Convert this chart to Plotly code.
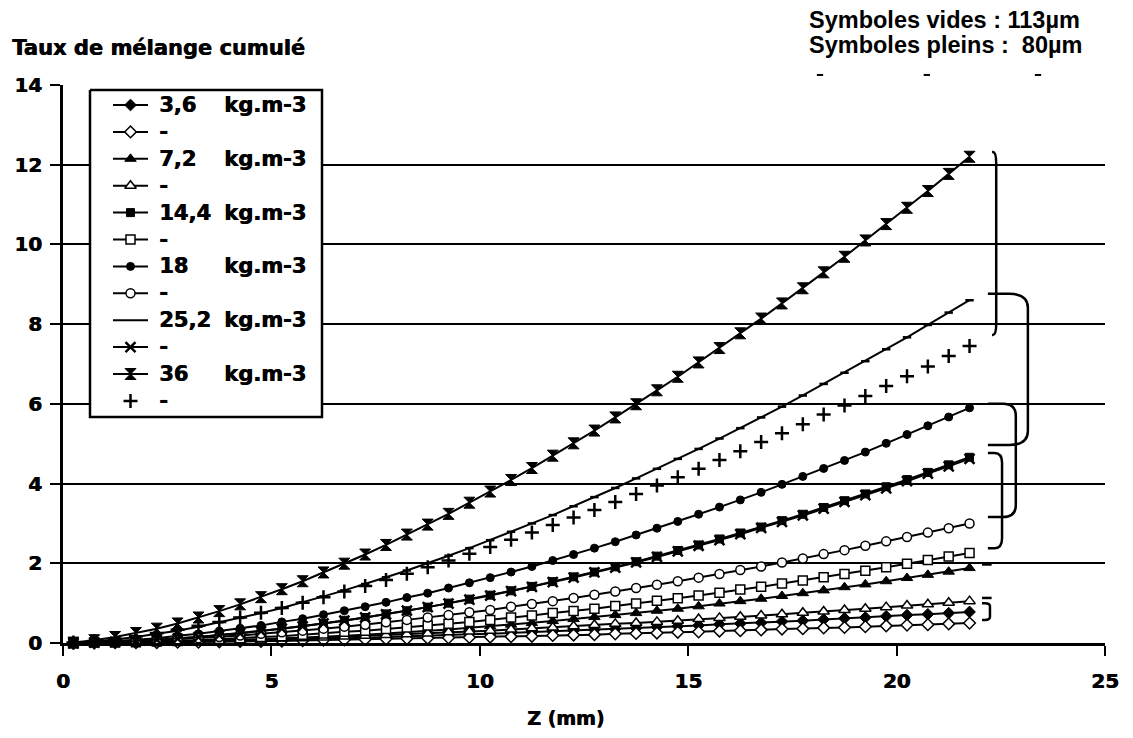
import plotly.graph_objects as go

# Axial position (mm)
z_mm = [0.25, 0.75, 1.25, 1.75, 2.25, 2.75, 3.25, 3.75, 4.25, 4.75, 5.25,
        5.75, 6.25, 6.75, 7.25, 7.75, 8.25, 8.75, 9.25, 9.75, 10.25, 10.75,
        11.25, 11.75, 12.25, 12.75, 13.25, 13.75, 14.25, 14.75, 15.25, 15.75,
        16.25, 16.75, 17.25, 17.75, 18.25, 18.75, 19.25, 19.75, 20.25, 20.75,
        21.25, 21.75]

# Cumulated mixing rate, 80 µm particles (filled symbols)
c36_80 = [0.01, 0.07, 0.15, 0.25, 0.36, 0.49, 0.64, 0.80, 0.97, 1.15, 1.35,
          1.55, 1.77, 1.99, 2.22, 2.46, 2.72, 2.97, 3.24, 3.52, 3.80, 4.09,
          4.39, 4.70, 5.01, 5.33, 5.66, 5.99, 6.34, 6.68, 7.04, 7.40, 7.77,
          8.14, 8.52, 8.90, 9.30, 9.69, 10.10, 10.51, 10.92, 11.34, 11.77, 12.20]
c252_80 = [0.01, 0.04, 0.09, 0.15, 0.23, 0.31, 0.41, 0.52, 0.63, 0.75, 0.88,
           1.02, 1.17, 1.32, 1.48, 1.65, 1.82, 2.00, 2.19, 2.38, 2.58, 2.79,
           3.00, 3.21, 3.43, 3.66, 3.89, 4.13, 4.37, 4.62, 4.87, 5.13, 5.39,
           5.66, 5.93, 6.21, 6.50, 6.78, 7.07, 7.37, 7.67, 7.98, 8.29, 8.60]
c18_80 = [0.00, 0.02, 0.05, 0.08, 0.12, 0.18, 0.23, 0.30, 0.37, 0.44, 0.53,
          0.61, 0.71, 0.81, 0.91, 1.02, 1.14, 1.25, 1.38, 1.51, 1.64, 1.78,
          1.92, 2.07, 2.22, 2.38, 2.54, 2.71, 2.88, 3.05, 3.23, 3.41, 3.59,
          3.78, 3.98, 4.18, 4.38, 4.58, 4.79, 5.01, 5.23, 5.45, 5.67, 5.90]
c144_80 = [0.00, 0.01, 0.03, 0.05, 0.08, 0.11, 0.15, 0.20, 0.25, 0.30, 0.36,
           0.42, 0.49, 0.57, 0.64, 0.73, 0.81, 0.90, 1.00, 1.10, 1.20, 1.31,
           1.42, 1.54, 1.66, 1.78, 1.91, 2.04, 2.18, 2.32, 2.46, 2.61, 2.76,
           2.91, 3.07, 3.23, 3.40, 3.57, 3.74, 3.92, 4.10, 4.28, 4.47, 4.66]
c72_80 = [0.00, 0.00, 0.01, 0.01, 0.02, 0.03, 0.04, 0.06, 0.07, 0.09, 0.11,
          0.13, 0.16, 0.18, 0.21, 0.24, 0.27, 0.30, 0.34, 0.38, 0.42, 0.46,
          0.50, 0.55, 0.60, 0.65, 0.70, 0.75, 0.81, 0.86, 0.92, 0.99, 1.05,
          1.11, 1.18, 1.25, 1.32, 1.40, 1.47, 1.55, 1.63, 1.71, 1.79, 1.88]
c36k_80 = [0.00, 0.00, 0.01, 0.01, 0.02, 0.03, 0.04, 0.05, 0.06, 0.07, 0.08,
           0.09, 0.11, 0.12, 0.13, 0.15, 0.17, 0.18, 0.20, 0.22, 0.23, 0.25,
           0.27, 0.29, 0.31, 0.33, 0.35, 0.37, 0.40, 0.42, 0.44, 0.47, 0.49,
           0.51, 0.54, 0.56, 0.59, 0.62, 0.64, 0.67, 0.70, 0.72, 0.75, 0.78]

# Cumulated mixing rate, 113 µm particles (open symbols)
c36_113 = [0.01, 0.05, 0.10, 0.17, 0.25, 0.33, 0.43, 0.53, 0.64, 0.76, 0.88,
           1.01, 1.15, 1.29, 1.43, 1.58, 1.74, 1.90, 2.07, 2.24, 2.41, 2.59,
           2.77, 2.96, 3.15, 3.34, 3.54, 3.74, 3.95, 4.16, 4.37, 4.59, 4.81,
           5.04, 5.26, 5.49, 5.73, 5.96, 6.20, 6.45, 6.69, 6.94, 7.20, 7.45]
c252_113 = [0.00, 0.01, 0.03, 0.05, 0.08, 0.11, 0.15, 0.20, 0.24, 0.30, 0.36,
            0.42, 0.49, 0.56, 0.64, 0.72, 0.81, 0.90, 0.99, 1.09, 1.19, 1.30,
            1.41, 1.53, 1.64, 1.77, 1.89, 2.02, 2.16, 2.30, 2.44, 2.58, 2.73,
            2.89, 3.04, 3.20, 3.37, 3.54, 3.71, 3.88, 4.06, 4.25, 4.43, 4.62]
c18_113 = [0.00, 0.01, 0.02, 0.04, 0.06, 0.09, 0.12, 0.15, 0.19, 0.23, 0.27,
           0.31, 0.36, 0.41, 0.46, 0.52, 0.58, 0.64, 0.70, 0.77, 0.83, 0.91,
           0.98, 1.05, 1.13, 1.21, 1.29, 1.38, 1.46, 1.55, 1.64, 1.73, 1.83,
           1.92, 2.02, 2.12, 2.23, 2.33, 2.44, 2.55, 2.66, 2.77, 2.88, 3.00]
c144_113 = [0.00, 0.01, 0.01, 0.02, 0.04, 0.05, 0.07, 0.10, 0.12, 0.15, 0.17,
            0.21, 0.24, 0.28, 0.31, 0.35, 0.39, 0.44, 0.48, 0.53, 0.58, 0.64,
            0.69, 0.75, 0.80, 0.86, 0.93, 0.99, 1.06, 1.12, 1.19, 1.26, 1.34,
            1.41, 1.49, 1.57, 1.65, 1.73, 1.81, 1.90, 1.99, 2.08, 2.17, 2.26]
c72_113 = [0.00, 0.00, 0.01, 0.02, 0.03, 0.04, 0.05, 0.06, 0.08, 0.09, 0.11,
           0.12, 0.14, 0.16, 0.18, 0.20, 0.22, 0.24, 0.27, 0.29, 0.31, 0.34,
           0.37, 0.39, 0.42, 0.45, 0.48, 0.50, 0.53, 0.56, 0.60, 0.63, 0.66,
           0.69, 0.72, 0.76, 0.79, 0.83, 0.86, 0.90, 0.94, 0.97, 1.01, 1.05]
c36k_113 = [0.00, 0.00, 0.01, 0.01, 0.01, 0.02, 0.02, 0.03, 0.04, 0.04, 0.05,
            0.06, 0.07, 0.08, 0.09, 0.10, 0.11, 0.12, 0.13, 0.14, 0.15, 0.16,
            0.17, 0.19, 0.20, 0.21, 0.23, 0.24, 0.25, 0.27, 0.28, 0.30, 0.31,
            0.33, 0.35, 0.36, 0.38, 0.39, 0.41, 0.43, 0.45, 0.46, 0.48, 0.50]

# Legend entries: concentration label ("-" for the 113 µm twin)
conc_labels = ["3,6", "-", "7,2", "-", "14,4", "-", "18", "-", "25,2", "-", "36", "-"]
unit_label = "kg.m-3"

HEAVY = "DejaVu Sans"
BLACK = "#000000"
SHADOW = "0.7px 0px 0px #000"

# (values, symbol, filled, marker size, mode)
styles = [
    (c36k_80, "diamond", True, 9, "lines+markers"),
    (c36k_113, "diamond", False, 9, "lines+markers"),
    (c72_80, "triangle-up", True, 10, "lines+markers"),
    (c72_113, "triangle-up", False, 10, "lines+markers"),
    (c144_80, "square", True, 8, "lines+markers"),
    (c144_113, "square", False, 9, "lines+markers"),
    (c18_80, "circle", True, 8, "lines+markers"),
    (c18_113, "circle", False, 9, "lines+markers"),
    (c252_80, "line-ew", True, 6, "lines+markers"),
    (c252_113, "x-thin", True, 10, "lines+markers"),
    (c36_80, "hourglass", True, 11, "lines+markers"),
    (c36_113, "cross-thin", True, 10, "markers"),
]


def marker_style(sym, filled, size):
    if sym in ("x-thin", "cross-thin", "line-ew"):
        return dict(symbol=sym, size=size, color=BLACK,
                    line=dict(color=BLACK, width=2.5))
    if filled:
        return dict(symbol=sym, size=size, color=BLACK,
                    line=dict(color=BLACK, width=1))
    return dict(symbol=sym, size=size, color="white",
                line=dict(color=BLACK, width=1.5))


fig = go.Figure()
for label, (vals, sym, filled, size, mode) in zip(conc_labels, styles):
    fig.add_trace(go.Scatter(
        x=z_mm, y=vals, name=label, mode=mode, cliponaxis=False,
        showlegend=False, line=dict(color=BLACK, width=2),
        marker=marker_style(sym, filled, size)))

# Legend panel, laid out in pixel units on an overlay axis pair
LEG_LEFT, LEG_RIGHT, LEG_TOP, LEG_BOTTOM = 90, 322, 90, 417
ROW0, ROW_STEP = 105, 26.9
SAMPLE_X0, SAMPLE_X1 = 113, 148
TEXT_X, UNIT_X = 157, 222

fig.add_trace(go.Scatter(
    x=[LEG_LEFT, LEG_RIGHT, LEG_RIGHT, LEG_LEFT, LEG_LEFT],
    y=[LEG_TOP, LEG_TOP, LEG_BOTTOM, LEG_BOTTOM, LEG_TOP],
    xaxis="x2", yaxis="y2", mode="lines", fill="toself", fillcolor="white",
    line=dict(color=BLACK, width=2.5), hoverinfo="skip", showlegend=False))

legend_font = dict(family=HEAVY, size=21, color=BLACK, weight="bold", shadow=SHADOW)
annotations = []
for i, (label, (vals, sym, filled, size, mode)) in enumerate(zip(conc_labels, styles)):
    yc = ROW0 + ROW_STEP * i
    if "lines" in mode:
        fig.add_trace(go.Scatter(
            x=[SAMPLE_X0, SAMPLE_X1], y=[yc, yc], xaxis="x2", yaxis="y2",
            mode="lines", line=dict(color=BLACK, width=2),
            hoverinfo="skip", showlegend=False))
    if sym != "line-ew":
        fig.add_trace(go.Scatter(
            x=[(SAMPLE_X0 + SAMPLE_X1) / 2], y=[yc], xaxis="x2", yaxis="y2",
            mode="markers", marker=marker_style(sym, filled, size),
            hoverinfo="skip", showlegend=False))
    annotations.append(dict(
        text=label, xref="x2", yref="y2", x=TEXT_X, y=yc,
        xanchor="left", yanchor="middle", showarrow=False, font=legend_font))
    if label != "-":
        annotations.append(dict(
            text=unit_label, xref="x2", yref="y2", x=UNIT_X, y=yc,
            xanchor="left", yanchor="middle", showarrow=False, font=legend_font))


# Brackets pairing the two particle sizes of each concentration
def bracket(x0, x1, y_top, y_bot, x_bend, d):
    return (f"M {x0},{y_top} L {x_bend},{y_top} Q {x1},{y_top} {x1},{y_top - d} "
            f"L {x1},{y_bot + d} Q {x1},{y_bot} {x_bend},{y_bot} L {x0},{y_bot}")


brackets = [
    (22.29, 22.39, 12.32, 7.73, 22.31, 0.3),
    (22.19, 23.15, 8.76, 4.97, 22.70, 0.35),
    (22.19, 22.86, 6.00, 3.16, 22.55, 0.3),
    (22.19, 22.53, 4.77, 2.38, 22.35, 0.25),
    (22.05, 22.24, 1.00, 0.58, 22.12, 0.08),
]
shapes = []
for x0, x1, yt, yb, xb, d in brackets:
    shapes.append(dict(type="path", xref="x", yref="y",
                       path=bracket(x0, x1, yt, yb, xb, d),
                       line=dict(color=BLACK, width=2.5)))
for yv in (1.97, 1.13):
    shapes.append(dict(type="line", xref="x", yref="y", x0=22.05, x1=22.28,
                       y0=yv, y1=yv, line=dict(color=BLACK, width=2.5)))
for xp in (0.7265, 0.829, 0.9357):
    shapes.append(dict(type="line", xref="paper", yref="paper",
                       x0=xp - 0.003, x1=xp + 0.003, y0=1.018, y1=1.018,
                       line=dict(color=BLACK, width=2)))

annotations += [
    dict(text="Taux de mélange cumulé", xref="paper", yref="paper",
         x=-0.051, y=1.066, xanchor="left", yanchor="middle", showarrow=False,
         font=dict(family=HEAVY, size=21, color=BLACK, weight="bold", shadow=SHADOW)),
    dict(text="Symboles vides : 113µm", xref="paper", yref="paper",
         x=0.714, y=1.1165, xanchor="left", yanchor="middle", showarrow=False,
         font=dict(family="Liberation Sans", size=23.5, color=BLACK, weight="bold")),
    dict(text="Symboles pleins :  80µm", xref="paper", yref="paper",
         x=0.714, y=1.0717, xanchor="left", yanchor="middle", showarrow=False,
         font=dict(family="Liberation Sans", size=23.5, color=BLACK, weight="bold")),
    dict(text="Z (mm)", xref="paper", yref="paper",
         x=0.4818, y=-0.1344, xanchor="center", yanchor="middle", showarrow=False,
         font=dict(family=HEAVY, size=19, color=BLACK, weight="bold", shadow=SHADOW)),
]

tickfont = dict(family=HEAVY, size=20, color=BLACK, weight="bold", shadow=SHADOW)
fig.update_layout(
    width=1133, height=738,
    margin=dict(l=63, r=28, t=85, b=95),
    paper_bgcolor="white", plot_bgcolor="white",
    showlegend=False,
    xaxis=dict(range=[0, 25], tick0=0, dtick=5, showgrid=False, zeroline=False,
               showline=True, linecolor=BLACK, linewidth=3,
               ticks="outside", ticklen=10, tickwidth=2, tickcolor=BLACK,
               tickfont=tickfont, ticklabelstandoff=8),
    yaxis=dict(range=[0, 14], tick0=0, dtick=2, showgrid=True,
               gridcolor=BLACK, gridwidth=2, zeroline=False,
               showline=True, linecolor=BLACK, linewidth=3,
               ticks="outside", ticklen=10, tickwidth=2, tickcolor=BLACK,
               tickfont=tickfont, ticklabelstandoff=4),
    xaxis2=dict(overlaying="x", anchor="y2", range=[63, 1105], visible=False,
                fixedrange=True),
    yaxis2=dict(overlaying="y", anchor="x2", range=[643, 85], visible=False,
                fixedrange=True),
    shapes=shapes,
    annotations=annotations,
)

fig.write_html("out.html")
